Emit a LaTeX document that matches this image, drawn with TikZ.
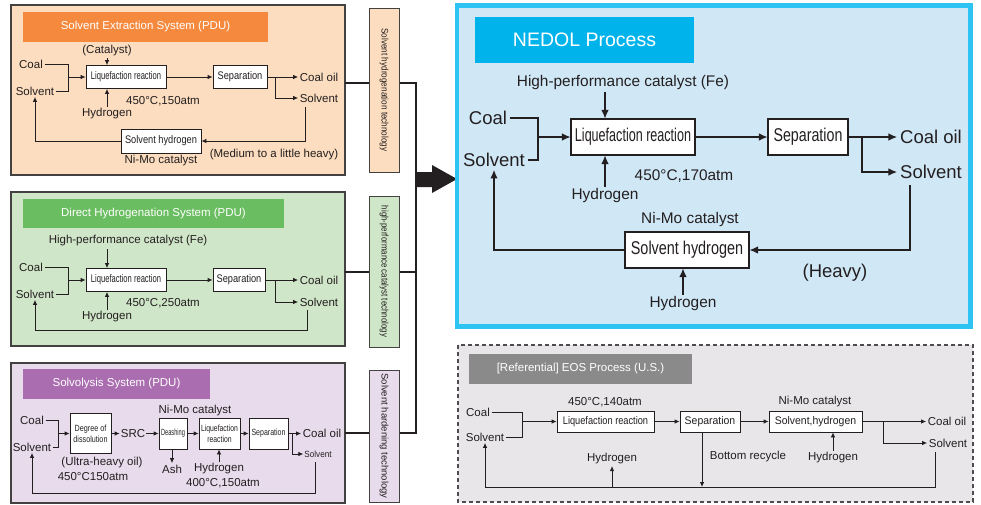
\documentclass[tikz,border=0pt]{standalone}
\usepackage{fontspec}
\setmainfont{Liberation Sans}
\usepackage{graphicx}
\usetikzlibrary{arrows.meta}
\definecolor{ink}{HTML}{231F20}
\definecolor{orgbg}{HTML}{FCDDBF}
\definecolor{orgbar}{HTML}{F58A3E}
\definecolor{grnbg}{HTML}{D0E6C8}
\definecolor{grnbar}{HTML}{6ABD60}
\definecolor{purbg}{HTML}{E8DBEC}
\definecolor{purbar}{HTML}{AA6DB0}
\definecolor{nedbg}{HTML}{D0E7F6}
\definecolor{nedline}{HTML}{2DC3F2}
\definecolor{nedbar}{HTML}{00B3EB}
\definecolor{eosbg}{HTML}{E8E6E8}
\definecolor{eosbar}{HTML}{8A8A8A}
\newcommand{\cnd}[2]{\scalebox{#1}[1]{#2}}

\begin{document}
\begin{tikzpicture}[x=1pt,y=-1pt,
  lab/.style={font=\fontsize{11.5}{13}\selectfont, text=ink, inner sep=1.5pt},
  labs/.style={font=\fontsize{9}{10.5}\selectfont, text=ink, inner sep=1pt},
  labm/.style={font=\fontsize{15.4}{17}\selectfont, text=ink, inner sep=2pt},
  labl/.style={font=\fontsize{18.5}{20}\selectfont, text=ink, inner sep=3pt},
  procbox/.style={draw=ink, fill=white, line width=0.8pt, inner sep=0pt, align=center,
    font=\fontsize{11}{12}\selectfont, text=ink},
  ln/.style={draw=ink, line width=0.8pt},
  arr/.style={draw=ink, line width=0.8pt, -{Latex[length=5pt,width=4.5pt]}},
  bln/.style={draw=ink, line width=1.1pt},
  barr/.style={draw=ink, line width=1.1pt, -{Latex[length=8.5pt,width=7.5pt]}},
  panel/.style={draw=ink!85, line width=1.3pt},
  titlebar/.style={text=white, inner sep=0pt, font=\fontsize{11.5}{13}\selectfont},
  vbox/.style={draw=ink!85, line width=1pt, inner sep=0pt, minimum width=30pt,
    font=\fontsize{9.5}{11}\selectfont, text=ink}
]
\useasboundingbox (0,0) rectangle (981,504);

% solvent extraction system
\draw[panel, fill=orgbg] (11,5) rectangle (345,175);
\node[titlebar, fill=orgbar, minimum width=245pt, minimum height=30pt] (t1) at (145.5,27) {Solvent Extraction System (PDU)};
\node[lab] (coal1) at (31,64) {Coal};
\node[lab] (sol1) at (35,91) {Solvent};
\coordinate (j1) at (68,77);
\draw[ln] (coal1) -| (j1);
\draw[ln] (sol1) -| (j1);
\node[procbox, minimum width=80pt, minimum height=23pt] (liq1) at (126,77) {\cnd{0.69}{Liquefaction reaction}};
\draw[arr] (j1) -- (liq1);
\node[lab] (cat1) at (107,51) {(Catalyst)};
\draw[arr] (cat1) -- (cat1 |- liq1.north);
\node[lab] (hyd1) at (107,114) {Hydrogen};
\draw[arr] (hyd1) -- (hyd1 |- liq1.south);
\node[lab] (tc1) at (163,101) {450°C,150atm};
\node[procbox, minimum width=54pt, minimum height=23pt] (sep1) at (240,77) {\cnd{0.84}{Separation}};
\draw[arr] (liq1) -- (sep1);
\node[lab] (oil1) at (319,77) {Coal oil};
\node[lab] (out1) at (319,98) {Solvent};
\coordinate (k1) at (275,77);
\draw[ln] (sep1) -- (k1);
\draw[arr] (k1) -- (oil1);
\draw[arr] (k1) |- (out1);
\node[procbox, minimum width=80pt, minimum height=24pt] (sh1) at (161,141) {\cnd{0.84}{Solvent hydrogen}};
\coordinate (r1) at (305,107);
\draw[arr] (r1) |- (sh1);
\draw[arr] (sh1) -| (sol1);
\node[lab] (nm1) at (161,161) {Ni-Mo catalyst};
\node[lab] (hv1) at (274,155) {(Medium to a little heavy)};

% direct hydrogenation system
\draw[panel, fill=grnbg] (11,192) rectangle (345,346);
\node[titlebar, fill=grnbar, minimum width=261pt, minimum height=29pt] (t2) at (153.5,213.5) {Direct Hydrogenation System (PDU)};
\node[lab] (coal2) at (31,267) {Coal};
\node[lab] (sol2) at (35,294) {Solvent};
\coordinate (j2) at (68,280);
\draw[ln] (coal2) -| (j2);
\draw[ln] (sol2) -| (j2);
\node[procbox, minimum width=80pt, minimum height=23pt] (liq2) at (126,280) {\cnd{0.69}{Liquefaction reaction}};
\draw[arr] (j2) -- (liq2);
\node[lab] (cat2) at (128,241) {High-performance catalyst (Fe)};
\coordinate (c2) at (107,249);
\draw[arr] (c2) -- (c2 |- liq2.north);
\node[lab] (hyd2) at (107,317) {Hydrogen};
\draw[arr] (hyd2) -- (hyd2 |- liq2.south);
\node[lab] (tc2) at (163,303) {450°C,250atm};
\node[procbox, minimum width=52pt, minimum height=23pt] (sep2) at (239,280) {\cnd{0.84}{Separation}};
\draw[arr] (liq2) -- (sep2);
\node[lab] (oil2) at (319,280) {Coal oil};
\node[lab] (out2) at (319,302) {Solvent};
\coordinate (k2) at (275,280);
\draw[ln] (sep2) -- (k2);
\draw[arr] (k2) -- (oil2);
\draw[arr] (k2) |- (out2);
\coordinate (r2) at (307,310);
\draw[arr] (r2) -- ++(0,20) -| (sol2);

% solvolysis system
\draw[panel, fill=purbg] (11,363) rectangle (345,503);
\node[titlebar, fill=purbar, minimum width=187pt, minimum height=30pt] (t3) at (116.5,384) {Solvolysis System (PDU)};
\node[lab] (coal3) at (32,420) {Coal};
\node[lab] (sol3) at (32,447) {Solvent};
\coordinate (j3) at (58,433.5);
\draw[ln] (coal3) -| (j3);
\draw[ln] (sol3) -| (j3);
\node[procbox, font=\fontsize{9}{11}\selectfont, minimum width=41pt, minimum height=40pt] (dis3) at (90.5,433.5) {\cnd{0.8}{Degree of}\\\cnd{0.8}{dissolution}};
\draw[arr] (j3) -- (dis3);
\node[lab, inner sep=1pt] (src3) at (133,433.5) {SRC};
\draw[arr] (dis3) -- (src3);
\node[procbox, font=\fontsize{9}{11}\selectfont, minimum width=28pt, minimum height=31pt] (dsh3) at (173,433.5) {\cnd{0.63}{Deashing}};
\draw[arr] (src3) -- (dsh3);
\node[lab] (nm3) at (195,411) {Ni-Mo catalyst};
\node[lab] (ash3) at (172,469) {Ash};
\draw[arr] (dsh3.south -| ash3) -- (ash3);
\node[procbox, font=\fontsize{9}{11}\selectfont, minimum width=41pt, minimum height=31pt] (liq3) at (219.5,433.5) {\cnd{0.76}{Liquefaction}\\\cnd{0.76}{reaction}};
\draw[arr] (dsh3) -- (liq3);
\node[lab] (hyd3) at (219,469) {Hydrogen};
\draw[arr] (hyd3) -- (hyd3 |- liq3.south);
\node[lab] (tc3) at (223,483) {400°C,150atm};
\node[lab] (uh3) at (102,463) {(Ultra-heavy oil)};
\node[lab] (td3) at (93,477) {450°C150atm};
\node[procbox, font=\fontsize{9}{11}\selectfont, minimum width=39pt, minimum height=31pt] (sep3) at (268.5,433.5) {\cnd{0.78}{Separation}};
\draw[arr] (liq3) -- (sep3);
\node[lab] (oil3) at (322,433.5) {Coal oil};
\node[labs] (out3) at (318,454) {\cnd{0.9}{Solvent}};
\coordinate (k3) at (292,433.5);
\draw[ln] (sep3) -- (k3);
\draw[arr] (k3) -- (oil3);
\draw[arr] (k3) |- (out3);
\coordinate (r3) at (315,462);
\draw[arr] (r3) -- ++(0,31) -| (sol3);

% technology labels
\node[vbox, fill=orgbg, minimum height=164pt] (v1) at (384,90) {\rotatebox{-90}{\cnd{0.86}{Solvent hydrogenation technology}}};
\node[vbox, fill=grnbg, minimum height=151pt] (v2) at (384,271.5) {\rotatebox{-90}{\cnd{0.83}{high-performance catalyst technology}}};
\node[vbox, fill=purbg, minimum height=132pt] (v3) at (384,436) {\rotatebox{-90}{Solvent hardening technology}};
\coordinate (e1) at (345,83);
\coordinate (e2) at (345,272);
\coordinate (e3) at (345,433);
\coordinate (bus1) at (416,83);
\coordinate (bus2) at (416,272);
\coordinate (bus3) at (416,433);
\draw[ink, line width=1.6pt] (e1) -- (v1.west |- e1);
\draw[ink, line width=1.6pt] (e2) -- (v2.west |- e2);
\draw[ink, line width=1.6pt] (e3) -- (v3.west |- e3);
\draw[ink, line width=1.6pt] (v1.east |- bus1) -- (bus1) -- (bus3) -- (v3.east |- bus3);
\draw[ink, line width=1.6pt] (v2.east |- bus2) -- (bus2);
% big arrow
\fill[ink] (416,172) -- (432,172) -- (432,165) -- (457,179) -- (432,193) -- (432,187) -- (416,187) -- cycle;

% NEDOL process
\draw[draw=nedline, fill=nedbg, line width=4.5pt] (457,5.5) rectangle (970.5,326.5);
\node[fill=nedbar, text=white, inner sep=0pt, minimum width=219pt, minimum height=46pt, font=\fontsize{19.5}{22}\selectfont] (tN) at (584.5,40) {NEDOL Process};
\node[labl] (coalN) at (488,118) {Coal};
\node[labl] (solN) at (494,160) {Solvent};
\coordinate (jN) at (538,137);
\draw[bln] (coalN) -| (jN);
\draw[bln] (solN) -| (jN);
\node[procbox, line width=1.1pt, font=\fontsize{18.5}{20}\selectfont, minimum width=124pt, minimum height=36pt] (liqN) at (633,137) {\cnd{0.68}{Liquefaction reaction}};
\draw[barr] (jN) -- (liqN);
\node[labm] (catN) at (623,83) {High-performance catalyst (Fe)};
\coordinate (cN) at (605,92);
\draw[barr] (cN) -- (cN |- liqN.north);
\node[labm] (hydN) at (605,196) {Hydrogen};
\draw[barr] (hydN) -- (hydN |- liqN.south);
\node[labm] (tcN) at (684,176) {450°C,170atm};
\node[procbox, line width=1.1pt, font=\fontsize{18.5}{20}\selectfont, minimum width=80pt, minimum height=36pt] (sepN) at (808,137) {\cnd{0.77}{Separation}};
\draw[barr] (liqN) -- (sepN);
\node[labl] (oilN) at (931,137) {Coal oil};
\node[labl] (outN) at (931,172) {Solvent};
\coordinate (kN) at (862,137);
\draw[bln] (sepN) -- (kN);
\draw[barr] (kN) -- (oilN);
\draw[barr] (kN) |- (outN);
\node[procbox, line width=1.1pt, font=\fontsize{18.5}{20}\selectfont, minimum width=124pt, minimum height=36pt] (shN) at (687,250) {\cnd{0.78}{Solvent hydrogen}};
\coordinate (rN) at (910,185);
\draw[barr] (rN) |- (shN);
\draw[barr] (shN) -| (solN);
\node[labm] (nmN) at (690,220) {Ni-Mo catalyst};
\node[labm] (hydN2) at (683,304) {Hydrogen};
\draw[barr] (hydN2) -- (hydN2 |- shN.south);
\node[labl] (hvN) at (835,273) {(Heavy)};

% EOS process
\draw[draw=ink!80, fill=eosbg, line width=1.1pt, dash pattern=on 4pt off 3pt] (458,345) rectangle (973,502);
\node[titlebar, fill=eosbar, minimum width=223pt, minimum height=30pt] (tE) at (580.5,369) {[Referential] EOS Process (U.S.)};
\node[lab] (coalE) at (478,412) {Coal};
\node[lab] (solE) at (485,437) {Solvent};
\coordinate (jE) at (522,421.5);
\draw[ln] (coalE) -| (jE);
\draw[ln] (solE) -| (jE);
\node[procbox, minimum width=97pt, minimum height=21pt] (liqE) at (605.5,421.5) {\cnd{0.84}{Liquefaction reaction}};
\draw[arr] (jE) -- (liqE);
\node[lab] (tcE) at (605,402) {450°C,140atm};
\node[procbox, minimum width=60pt, minimum height=21pt] (sepE) at (710,421.5) {\cnd{0.95}{Separation}};
\draw[arr] (liqE) -- (sepE);
\node[procbox, minimum width=93pt, minimum height=21pt] (shE) at (815.5,421.5) {\cnd{0.95}{Solvent,hydrogen}};
\draw[arr] (sepE) -- (shE);
\node[lab] (nmE) at (815,402) {Ni-Mo catalyst};
\node[lab] (hydE2) at (833,458) {Hydrogen};
\draw[arr] (hydE2) -- (hydE2 |- shE.south);
\node[lab] (oilE) at (947,421.5) {Coal oil};
\node[lab] (outE) at (948,443) {Solvent};
\coordinate (kE) at (883,421.5);
\draw[ln] (shE) -- (kE);
\draw[arr] (kE) -- (oilE);
\draw[arr] (kE) |- (outE);
\coordinate (rE) at (935,452);
\draw[arr] (rE) -- ++(0,35) -| (solE);
\coordinate (botE) at (702,487);
\draw[arr] (sepE.south -| botE) -- (botE);
\node[lab] (brE) at (748,457) {Bottom recycle};
\node[lab] (hydE1) at (612,459) {Hydrogen};
\coordinate (hE) at (612,487);
\draw[arr] (hE) -- (hydE1);

\end{tikzpicture}
\end{document}
